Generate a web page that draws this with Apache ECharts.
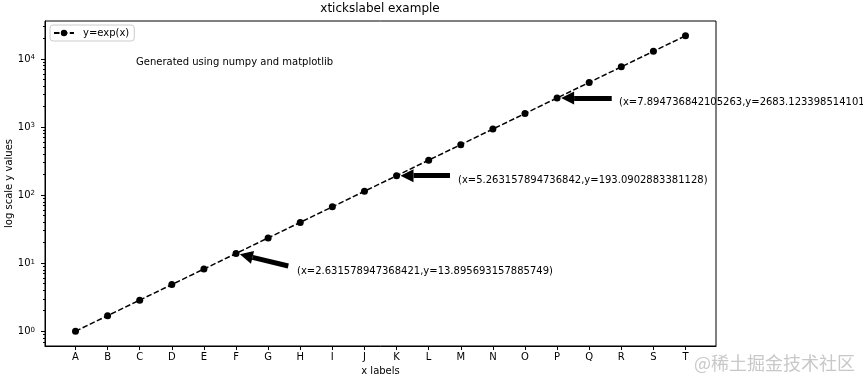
<!DOCTYPE html>
<html><head><meta charset="utf-8">
<script src="https://cdn.jsdelivr.net/npm/echarts@6/dist/echarts.min.js"></script>
<style>html,body{margin:0;padding:0;background:#fff}#c{width:863px;height:380px}</style>
</head><body><div id="c"></div>
<script>
const FONT = '"DejaVu Sans", Verdana, sans-serif';
const categories = ['A','B','C','D','E','F','G','H','I','J','K','L','M','N','O','P','Q','R','S','T'];
const xIndex = [0,1,2,3,4,5,6,7,8,9,10,11,12,13,14,15,16,17,18,19];
const yValues = [1.0, 1.6925, 2.8646, 4.8482, 8.2056, 13.8957, 23.52, 39.81, 67.39, 114.07,
                 193.09, 326.8, 553.2, 936.5, 1585.1, 2683.12, 4541.8, 7687.6, 13012.9, 22026.47];
const majorExponents = [0, 1, 2, 3, 4];
const minorTickValues = [0.7,0.8,0.9, 2,3,4,5,6,7,8,9, 20,30,40,50,60,70,80,90,
  200,300,400,500,600,700,800,900, 2000,3000,4000,5000,6000,7000,8000,9000, 20000,30000];
const annotationTexts = [
  '(x=2.631578947368421,y=13.895693157885749)',
  '(x=5.263157894736842,y=193.0902883381128)',
  '(x=7.894736842105263,y=2683.1233985141014)'
];
// arrow tail -> arrow head base, in data coords (x index, y value)
const arrowFrom = [[6.628, 9.094], [11.665, 193.09], [16.702, 2683.12]];
const arrowTo   = [[5.513, 12.17], [10.528, 193.09], [15.530, 2683.12]];

const yMin = 0.6065, yMax = 36316;
const lMin = Math.log10(yMin), lMax = Math.log10(yMax);

const chart = echarts.init(document.getElementById('c'), null, {renderer:'canvas'});
const option = {
  backgroundColor: '#fff',
  animation: false,
  title: {
    text: 'xtickslabel example', left: 380, top: 3, padding: 0, textAlign: 'center',
    textStyle: {fontFamily: FONT, fontSize: 12, fontWeight: 'normal', color: '#000'}
  },
  legend: {
    data: ['y=exp(x)'], left: 50, top: 25, orient: 'vertical',
    padding: [3, 5, 3, 3], borderColor: '#ccc', borderWidth: 1, borderRadius: 3,
    itemWidth: 20, itemHeight: 8, itemGap: 0,
    textStyle: {fontFamily: FONT, fontSize: 10, color: '#000', padding: [0, 0, 0, 4]}
  },
  grid: {left: 45, right: 147, top: 21, bottom: 34, show: true, borderColor: '#000', borderWidth: 1, outerBoundsMode: 'none', containLabel: false},
  xAxis: {
    type: 'value', min: -0.95, max: 19.95,
    name: 'x labels', nameLocation: 'middle', nameGap: 20, nameMoveOverlap: false,
    nameTextStyle: {fontFamily: FONT, fontSize: 10, color: '#000'},
    axisLine: {show: true, onZero: false, lineStyle: {color: '#000', width: 1}},
    axisTick: {show: true, customValues: xIndex, length: 4, lineStyle: {color: '#000', width: 1}},
    axisLabel: {customValues: xIndex, formatter: v => categories[Math.round(v)], margin: 6,
                fontFamily: FONT, fontSize: 10, color: '#000'},
    splitLine: {show: false}
  },
  yAxis: [
    {
      type: 'log', logBase: 10, min: yMin, max: yMax, position: 'left',
      name: 'log scale y values', nameLocation: 'middle', nameGap: 31, nameMoveOverlap: false,
      nameTextStyle: {fontFamily: FONT, fontSize: 10, color: '#000'},
      axisLine: {show: true, onZero: false, lineStyle: {color: '#000', width: 1}},
      axisTick: {show: false}, minorTick: {show: false},
      axisLabel: {
        showMinLabel: false, showMaxLabel: false, margin: 10,
        formatter: v => '{b|10}{s|' + Math.round(Math.log10(v)) + '}',
        rich: {
          b: {fontFamily: FONT, fontSize: 10, color: '#000'},
          s: {fontFamily: FONT, fontSize: 7, color: '#000', verticalAlign: 'top'}
        }
      },
      splitLine: {show: false}
    },
    {
      type: 'value', min: lMin, max: lMax, position: 'left',
      axisLine: {show: false, onZero: false},
      axisTick: {show: true, customValues: majorExponents, length: 4, lineStyle: {color: '#000', width: 1}},
      axisLabel: {show: false}, splitLine: {show: false}
    },
    {
      type: 'value', min: lMin, max: lMax, position: 'left',
      axisLine: {show: false, onZero: false},
      axisTick: {show: true, customValues: minorTickValues.map(v => Math.log10(v)), length: 2, lineStyle: {color: '#000', width: 1}},
      axisLabel: {show: false}, splitLine: {show: false}
    }
  ],
  series: [{
    type: 'line', name: 'y=exp(x)', yAxisIndex: 0,
    data: xIndex.map((x, i) => [x, yValues[i]]),
    symbol: 'circle', symbolSize: 7, showSymbol: true,
    itemStyle: {color: '#000'},
    lineStyle: {color: '#000', width: 1.5, type: [5.5, 2.4]},
    emphasis: {disabled: true},
    markLine: {
      silent: true, animation: false,
      symbol: ['none', 'triangle'], symbolSize: 13,
      symbolOffset: [[0, 0], [0, -6.5]],
      lineStyle: {color: '#000', width: 5, type: 'solid'},
      label: {show: false}, emphasis: {disabled: true},
      data: arrowFrom.map((f, i) => [{coord: f}, {coord: arrowTo[i]}])
    }
  }],
  graphic: [
    {type: 'text', x: 136, y: 62, silent: true,
     style: {text: 'Generated using numpy and matplotlib', font: '10px ' + FONT, fill: '#000', verticalAlign: 'middle'}},
    {type: 'text', x: 297, y: 271.5, silent: true,
     style: {text: annotationTexts[0], font: '10px ' + FONT, fill: '#000', verticalAlign: 'middle'}},
    {type: 'text', x: 458, y: 180, silent: true,
     style: {text: annotationTexts[1], font: '10px ' + FONT, fill: '#000', verticalAlign: 'middle'}},
    {type: 'text', x: 619, y: 102.5, silent: true,
     style: {text: annotationTexts[2], font: '10px ' + FONT, fill: '#000', verticalAlign: 'middle'}},
    {type: 'text', x: 855, y: 363, silent: true,
     style: {text: '@稀土掘金技术社区', font: '18px "Noto Sans CJK SC"', fill: '#c8c8c8', align: 'right', verticalAlign: 'middle'}}
  ]
};
chart.setOption(option);
</script></body></html>
